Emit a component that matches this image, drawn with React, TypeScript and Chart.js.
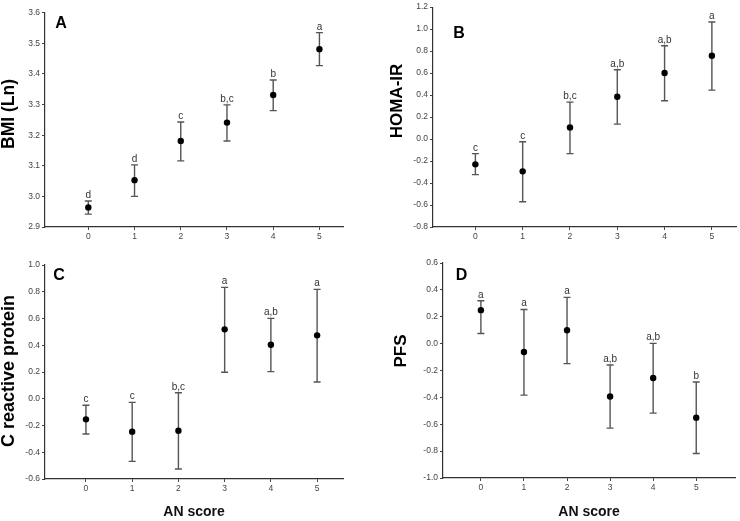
import React, { useEffect, useRef } from 'react';
import { Chart, registerables } from 'chart.js';

Chart.register(...registerables);

// ---- data ----
const anScore = [0, 1, 2, 3, 4, 5];
const xTickLabels = ['0', '1', '2', '3', '4', '5'];

const bmiMean = [2.964, 3.053, 3.181, 3.241, 3.331, 3.481];
const bmiLow = [2.942, 3.0, 3.116, 3.181, 3.28, 3.427];
const bmiHigh = [2.985, 3.103, 3.243, 3.299, 3.38, 3.535];
const bmiLetters = ['d', 'd', 'c', 'b,c', 'b', 'a'];

const homaMean = [-0.23, -0.294, 0.106, 0.385, 0.6, 0.758];
const homaLow = [-0.324, -0.57, -0.133, 0.136, 0.348, 0.445];
const homaHigh = [-0.133, -0.024, 0.336, 0.63, 0.848, 1.064];
const homaLetters = ['c', 'c', 'b,c', 'a,b', 'a,b', 'a'];

const crpMean = [-0.154, -0.246, -0.239, 0.519, 0.404, 0.474];
const crpLow = [-0.264, -0.468, -0.525, 0.198, 0.203, 0.125];
const crpHigh = [-0.049, -0.027, 0.045, 0.833, 0.601, 0.818];
const crpLetters = ['c', 'c', 'b,c', 'a', 'a,b', 'a'];

const pfsMean = [0.249, -0.062, 0.1, -0.393, -0.256, -0.552];
const pfsLow = [0.075, -0.383, -0.149, -0.629, -0.517, -0.818];
const pfsHigh = [0.319, 0.254, 0.344, -0.159, 0.002, -0.286];
const pfsLetters = ['a', 'a', 'a', 'a,b', 'a,b', 'b'];

const FAMILY = '"Liberation Sans", Arial, sans-serif';

type PanelCfg = {
  id: string;
  letter: string;
  title: string;
  titleSize: number;
  mean: number[];
  low: number[];
  high: number[];
  sig: string[];
  yMin: number;
  yMax: number;
  yStep: number;
  xMin: number;
  xMax: number;
  xTitle: boolean;
  box: { left: number; top: number; w: number; h: number };
  area: { left: number; right: number; top: number; bottom: number };
  titlePos: { x: number; y: number };
  letterPos: { x: number; y: number };
};

const panels: PanelCfg[] = [
  {
    id: 'A', letter: 'A', title: 'BMI (Ln)', titleSize: 17.5,
    mean: bmiMean, low: bmiLow, high: bmiHigh, sig: bmiLetters,
    yMin: 2.9, yMax: 3.6, yStep: 0.1, xMin: -0.937, xMax: 5.51, xTitle: false,
    box: { left: 0, top: 0, w: 370, h: 255 },
    area: { left: 45, right: 343, top: 12.7, bottom: 227 },
    titlePos: { x: 9, y: 114 }, letterPos: { x: 61, y: 23.5 },
  },
  {
    id: 'B', letter: 'B', title: 'HOMA-IR', titleSize: 17,
    mean: homaMean, low: homaLow, high: homaHigh, sig: homaLetters,
    yMin: -0.8, yMax: 1.2, yStep: 0.2, xMin: -0.896, xMax: 5.51, xTitle: false,
    box: { left: 370, top: 0, w: 370, h: 255 },
    area: { left: 63, right: 368, top: 6.7, bottom: 227 },
    titlePos: { x: 27.5, y: 101 }, letterPos: { x: 89, y: 34 },
  },
  {
    id: 'C', letter: 'C', title: 'C reactive protein', titleSize: 18,
    mean: crpMean, low: crpLow, high: crpHigh, sig: crpLetters,
    yMin: -0.6, yMax: 1.0, yStep: 0.2, xMin: -0.886, xMax: 5.56, xTitle: true,
    box: { left: 0, top: 255, w: 370, h: 266 },
    area: { left: 45, right: 343, top: 10, bottom: 224 },
    titlePos: { x: 9, y: 116 }, letterPos: { x: 59, y: 21 },
  },
  {
    id: 'D', letter: 'D', title: 'PFS', titleSize: 17,
    mean: pfsMean, low: pfsLow, high: pfsHigh, sig: pfsLetters,
    yMin: -1.0, yMax: 0.6, yStep: 0.2, xMin: -0.88, xMax: 5.9, xTitle: true,
    box: { left: 370, top: 255, w: 370, h: 266 },
    area: { left: 73, right: 365, top: 8, bottom: 223 },
    titlePos: { x: 31.5, y: 96 }, letterPos: { x: 91.5, y: 21 },
  },
];

function Panel({ p }: { p: PanelCfg }) {
  const ref = useRef<HTMLCanvasElement | null>(null);

  useEffect(() => {
    if (!ref.current) return;

    const errorPlugin = {
      id: 'errbars' + p.id,
      beforeDatasetsDraw(chart: any) {
        const { ctx } = chart;
        const xs = chart.scales.x;
        const ys = chart.scales.y;
        ctx.save();
        ctx.strokeStyle = '#555';
        ctx.lineWidth = 1.4;
        anScore.forEach((v, i) => {
          const x = xs.getPixelForValue(v);
          const yt = ys.getPixelForValue(p.high[i]);
          const yb = ys.getPixelForValue(p.low[i]);
          ctx.beginPath();
          ctx.moveTo(x, yt);
          ctx.lineTo(x, yb);
          ctx.moveTo(x - 3.5, yt);
          ctx.lineTo(x + 3.5, yt);
          ctx.moveTo(x - 3.5, yb);
          ctx.lineTo(x + 3.5, yb);
          ctx.stroke();
        });
        ctx.restore();
      },
      afterDraw(chart: any) {
        const { ctx } = chart;
        const xs = chart.scales.x;
        const ys = chart.scales.y;
        ctx.save();
        ctx.fillStyle = '#333';
        ctx.font = `10px ${FAMILY}`;
        ctx.textAlign = 'center';
        ctx.textBaseline = 'alphabetic';
        anScore.forEach((v, i) => {
          const x = xs.getPixelForValue(v);
          const yt = ys.getPixelForValue(p.high[i]);
          ctx.fillText(p.sig[i], x, yt - 3);
        });
        // panel letter
        ctx.fillStyle = '#000';
        ctx.font = `bold 16px ${FAMILY}`;
        ctx.textBaseline = 'middle';
        ctx.fillText(p.letter, p.letterPos.x, p.letterPos.y);
        // y-axis title
        ctx.translate(p.titlePos.x, p.titlePos.y);
        ctx.rotate(-Math.PI / 2);
        ctx.font = `bold ${p.titleSize}px ${FAMILY}`;
        ctx.fillText(p.title, 0, 0);
        ctx.restore();
      },
    };

    const chart = new Chart(ref.current, {
      type: 'scatter',
      data: {
        datasets: [
          {
            data: anScore.map((v, i) => ({ x: v, y: p.mean[i] })),
            pointRadius: 3.2,
            pointBackgroundColor: '#000',
            pointBorderWidth: 0,
            showLine: false,
          },
        ],
      },
      options: {
        responsive: false,
        maintainAspectRatio: false,
        animation: false,
        devicePixelRatio: 1,
        layout: {
          padding: { left: 0, top: p.area.top, right: p.box.w - p.area.right, bottom: 0 },
        },
        plugins: { legend: { display: false }, tooltip: { enabled: false } },
        scales: {
          x: {
            type: 'linear',
            min: p.xMin,
            max: p.xMax,
            afterBuildTicks: (s: any) => {
              s.ticks = anScore.map((v) => ({ value: v }));
            },
            afterFit: (s: any) => {
              s.height = p.box.h - p.area.bottom;
            },
            ticks: {
              autoSkip: false,
              maxRotation: 0,
              padding: 2,
              color: '#444',
              font: { size: 8.5, family: FAMILY },
              callback: (v: any) => {
                const k = anScore.indexOf(Number(v));
                return k >= 0 ? xTickLabels[k] : '';
              },
            },
            grid: { display: true, drawOnChartArea: false, drawTicks: true, tickLength: 3, color: '#444', lineWidth: 1 },
            border: { display: true, color: '#333', width: 1.2 },
            title: {
              display: p.xTitle,
              text: 'AN score',
              color: '#111',
              font: { size: 14, weight: 'bold', family: FAMILY },
              padding: 0,
            },
          },
          y: {
            type: 'linear',
            min: p.yMin,
            max: p.yMax,
            afterFit: (s: any) => {
              s.width = p.area.left;
            },
            ticks: {
              stepSize: p.yStep,
              padding: 2,
              color: '#444',
              font: { size: 8.5, family: FAMILY },
              callback: (v: any) => Number(v).toFixed(1),
            },
            grid: { display: true, drawOnChartArea: false, drawTicks: true, tickLength: 3, color: '#444', lineWidth: 1 },
            border: { display: true, color: '#333', width: 1.2 },
          },
        },
      },
      plugins: [errorPlugin],
    } as any);

    return () => chart.destroy();
  }, [p]);

  return (
    <canvas
      ref={ref}
      width={p.box.w}
      height={p.box.h}
      style={{ position: 'absolute', left: p.box.left, top: p.box.top, width: p.box.w, height: p.box.h }}
    />
  );
}

export default function App() {
  return (
    <div style={{ position: 'absolute', left: 0, top: 0, width: 740, height: 521, background: '#fff' }}>
      {panels.map((p) => (
        <Panel key={p.id} p={p} />
      ))}
    </div>
  );
}
